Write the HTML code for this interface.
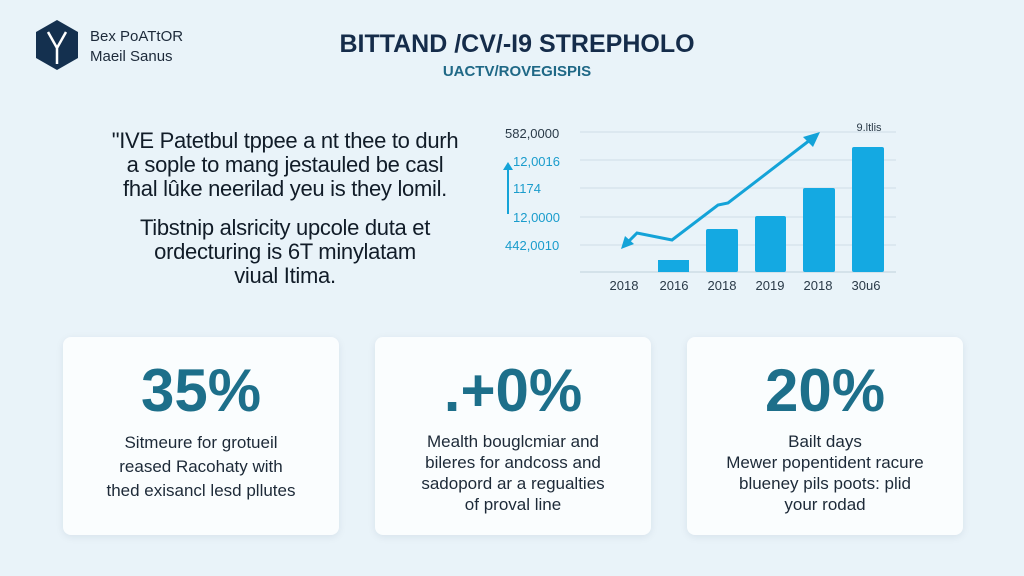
<!DOCTYPE html><html><head><style>
body{margin:0;width:1024px;height:576px;background:#e9f3f9;font-family:"Liberation Sans",sans-serif;position:relative;overflow:hidden}
.a{position:absolute}
.card{position:absolute;top:337px;width:276px;height:198px;background:#fafdfe;border-radius:8px;box-shadow:0 2px 8px rgba(0,40,80,.08);text-align:center}
.card .n{font-size:60px;font-weight:bold;color:#1d6f8a;margin-top:22px;line-height:64px}
.card .t{font-size:17px;color:#1d2a38;line-height:24px;margin-top:8px}
.p{position:absolute;left:70px;width:430px;text-align:center;font-size:22px;color:#111c28;line-height:24px;white-space:nowrap;letter-spacing:-0.3px}
</style></head><body>
<svg class="a" style="left:34px;top:18px" width="46" height="54"><polygon points="23,2 44,14 44,40 23,52 2,40 2,14" fill="#14304f"/><path d="M14,14 L23,30 L32,14 M23,30 L23,46" stroke="#fff" stroke-width="2.5" fill="none"/></svg>
<div class="a" style="left:90px;top:27px;font-size:15px;color:#1d2a3a;line-height:20px">Bex PoATtOR<br>Maeil Sanus</div>
<div class="a" style="left:0;width:1024px;top:30px;text-align:center;font-size:25px;font-weight:bold;color:#152c4a;padding-left:5px">BITTAND /CV/-I9 STREPHOLO</div>
<div class="a" style="left:0;width:1024px;top:63px;text-align:center;font-size:15px;font-weight:bold;color:#1f6886;padding-left:5px">UACTV/ROVEGISPIS</div>
<div class="p" style="top:129px">"IVE Patetbul tppee a nt thee to durh<br>a sople to mang jestauled be casl<br>fhal lûke neerilad yeu is they lomil.</div>
<div class="p" style="top:216px">Tibstnip alsricity upcole duta et<br>ordecturing is 6T minylatam<br>viual Itima.</div>
<svg class="a" style="left:0;top:0" width="1024" height="576">
<g stroke="#cfdde6" stroke-width="1"><line x1="580" y1="132" x2="896" y2="132"/><line x1="580" y1="160" x2="896" y2="160"/><line x1="580" y1="188" x2="896" y2="188"/><line x1="580" y1="217" x2="896" y2="217"/><line x1="580" y1="245" x2="896" y2="245"/><line x1="580" y1="272" x2="896" y2="272" stroke="#bfd0db"/></g>
<g font-size="13" fill="#1a9ccc"><text x="505" y="138" fill="#2a3a48">582,0000</text><text x="513" y="166">12,0016</text><text x="513" y="193">1174</text><text x="513" y="222">12,0000</text><text x="505" y="250">442,0010</text></g>
<line x1="508" y1="214" x2="508" y2="168" stroke="#14a3d8" stroke-width="2"/><polygon points="503,170 508,162 513,170" fill="#14a3d8"/>
<g fill="#14a9e2"><rect x="658" y="260" width="31" height="12"/><rect x="706" y="229" width="32" height="43" rx="2"/><rect x="755" y="216" width="31" height="56" rx="2"/><rect x="803" y="188" width="32" height="84" rx="2"/><rect x="852" y="147" width="32" height="125" rx="2"/></g>
<polyline points="626,244 637,233 672,240 718,205 728,203 810,140" fill="none" stroke="#14a3d8" stroke-width="3"/>
<polygon points="820,132 803,137 813,147" fill="#14a3d8"/><polygon points="621,249 625,236 634,244" fill="#14a3d8"/>
<g font-size="13" fill="#2a3a48" text-anchor="middle"><text x="624" y="290">2018</text><text x="674" y="290">2016</text><text x="722" y="290">2018</text><text x="770" y="290">2019</text><text x="818" y="290">2018</text><text x="866" y="290">30u6</text><text x="869" y="131" font-size="11">9.ltlis</text></g>
</svg>
<div class="card" style="left:63px"><div class="n">35%</div><div class="t">Sitmeure for grotueil<br>reased Racohaty with<br>thed exisancl lesd pllutes</div></div>
<div class="card" style="left:375px"><div class="n">.+0%</div><div class="t" style="line-height:21px">Mealth bouglcmiar and<br>bileres for andcoss and<br>sadopord ar a regualties<br>of proval line</div></div>
<div class="card" style="left:687px"><div class="n">20%</div><div class="t" style="line-height:21px">Bailt days<br>Mewer popentident racure<br>blueney pils poots: plid<br>your rodad</div></div>
</body></html>
